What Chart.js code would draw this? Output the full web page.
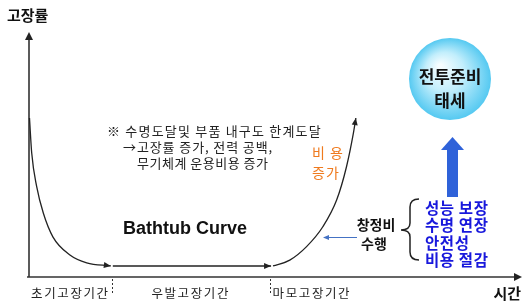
<!DOCTYPE html>
<html>
<head>
<meta charset="utf-8">
<script src="https://cdn.jsdelivr.net/npm/chart.js@4"></script>
<style>
  html, body { margin: 0; padding: 0; background: #fff; }
  #wrap { width: 527px; height: 302px; }
</style>
</head>
<body>
<div id="wrap"><canvas id="chart1" width="527" height="302"></canvas></div>
<script>
// time (0..100) and failure rate (0..100)
var earlyTime = [0.1, 0.55, 1.56, 2.9, 4.87, 8.3, 11.7, 16.6];
var earlyRate = [64.9, 50.6, 36.9, 26.1, 16.3, 9.0, 5.8, 4.5];
var randomTime = [17.0, 49.1];
var randomRate = [4.5, 4.5];
var wearTime = [49.5, 52.9, 56.3, 59.6, 62.4, 64.4, 65.8, 66.3];
var wearRate = [4.5, 6.9, 12.4, 20.5, 31.4, 45.0, 58.7, 64.9];

var periodLabels = ['초기고장기간', '우발고장기간', '마모고장기간'];
var periodBounds = [0, 16.8, 48.8, 66.3];

var noteLines = ['※ 수명도달및 부품 내구도 한계도달', '→고장률 증가, 전력 공백,', '무기체계 운용비용 증가'];
var benefitLines = ['성능 보장', '수명 연장', '안전성', '비용 절감'];

var KR = '"Noto Sans CJK KR", "Noto Sans", sans-serif';

function toPoints(xs, ys) {
    return xs.map(function (x, i) { return { x: x, y: ys[i] }; });
}

function arrowHead(ctx, x1, y1, x2, y2, len, half, color) {
    var a = Math.atan2(y2 - y1, x2 - x1);
    ctx.save();
    ctx.fillStyle = color;
    ctx.beginPath();
    ctx.moveTo(x2, y2);
    ctx.lineTo(x2 - len * Math.cos(a) + half * Math.sin(a), y2 - len * Math.sin(a) - half * Math.cos(a));
    ctx.lineTo(x2 - len * Math.cos(a) - half * Math.sin(a), y2 - len * Math.sin(a) + half * Math.cos(a));
    ctx.closePath();
    ctx.fill();
    ctx.restore();
}

function text(ctx, s, x, y, font, color, align, spacing) {
    ctx.font = font;
    ctx.fillStyle = color;
    ctx.textAlign = align || 'left';
    ctx.textBaseline = 'middle';
    ctx.letterSpacing = spacing || '0px';
    ctx.fillText(s, x, y);
    ctx.letterSpacing = '0px';
}

var decor = {
    id: 'decor',
    beforeDatasetsDraw: function (chart) {
        var ctx = chart.ctx;
        var a = chart.chartArea;
        var xs = chart.scales.x;
        ctx.save();
        // axes
        ctx.strokeStyle = '#333';
        ctx.lineWidth = 1.6;
        ctx.beginPath();
        ctx.moveTo(a.left, a.bottom);
        ctx.lineTo(a.left, a.top + 6);
        ctx.moveTo(a.left - 2, a.bottom);
        ctx.lineTo(a.right - 6, a.bottom);
        ctx.stroke();
        arrowHead(ctx, a.left, a.bottom, a.left, a.top, 8, 4, '#222');
        arrowHead(ctx, a.left, a.bottom, a.right, a.bottom, 8, 4, '#222');

        // period dividers and labels
        ctx.setLineDash([2, 2]);
        ctx.lineWidth = 1;
        ctx.strokeStyle = '#333';
        for (var i = 1; i < periodBounds.length - 1; i++) {
            var px = Math.round(xs.getPixelForValue(periodBounds[i])) + 0.5;
            ctx.beginPath();
            ctx.moveTo(px, a.bottom + 2);
            ctx.lineTo(px, a.bottom + 16);
            ctx.stroke();
        }
        ctx.setLineDash([]);
        var ly = a.bottom + 16;
        var f = '12.5px ' + KR;
        text(ctx, periodLabels[0], (xs.getPixelForValue(periodBounds[0]) + xs.getPixelForValue(periodBounds[1])) / 2, ly, f, '#222', 'center', '1.6px');
        text(ctx, periodLabels[1], (xs.getPixelForValue(periodBounds[1]) + xs.getPixelForValue(periodBounds[2])) / 2, ly, f, '#222', 'center', '1.6px');
        text(ctx, periodLabels[2], xs.getPixelForValue(periodBounds[2]) + 3, ly, f, '#222', 'left', '1.6px');

        text(ctx, '고장률', 7, 15, 'bold 15px ' + KR, '#111');
        text(ctx, '시간', 521, 293, 'bold 15px ' + KR, '#111', 'right');

        // notes
        text(ctx, noteLines[0], 107, 131, '13px ' + KR, '#222', 'left', '1.2px');
        text(ctx, noteLines[1], 123, 147, '13px ' + KR, '#222', 'left', '0.9px');
        text(ctx, noteLines[2], 137, 163, '13px ' + KR, '#222', 'left', '0.5px');
        text(ctx, '비 용', 312, 153, '14px ' + KR, '#ef7a1e', 'left', '1px');
        text(ctx, '증가', 312, 173, '14px ' + KR, '#ef7a1e', 'left', '1px');

        text(ctx, 'Bathtub Curve', 185, 229, 'bold 18px "Liberation Sans", Arial, sans-serif', '#111', 'center');

        text(ctx, '창정비', 376, 225, 'bold 14px ' + KR, '#111', 'center');
        text(ctx, '수행', 374, 244, 'bold 14px ' + KR, '#111', 'center');
        ctx.strokeStyle = '#4472c4';
        ctx.lineWidth = 1;
        ctx.beginPath();
        ctx.moveTo(357, 237.5);
        ctx.lineTo(328, 237.5);
        ctx.stroke();
        arrowHead(ctx, 357, 237.5, 323, 237.5, 6, 2.5, '#4472c4');

        // brace
        ctx.strokeStyle = '#222';
        ctx.lineWidth = 1.5;
        ctx.beginPath();
        ctx.moveTo(419, 199);
        ctx.quadraticCurveTo(410, 199, 410, 207);
        ctx.lineTo(410, 223);
        ctx.quadraticCurveTo(410, 230, 401, 230);
        ctx.quadraticCurveTo(410, 230, 410, 237);
        ctx.lineTo(410, 252);
        ctx.quadraticCurveTo(410, 260, 419, 260);
        ctx.stroke();

        for (var j = 0; j < benefitLines.length; j++) {
            text(ctx, benefitLines[j], 425, 208 + j * 17.5, 'bold 15.5px ' + KR, '#1818dc', 'left', '0.6px');
        }

        // blue up arrow
        ctx.fillStyle = '#2f62d9';
        ctx.fillRect(447, 149, 11, 48);
        ctx.beginPath();
        ctx.moveTo(452.5, 137);
        ctx.lineTo(464, 150);
        ctx.lineTo(441, 150);
        ctx.closePath();
        ctx.fill();

        // readiness circle
        var g = ctx.createRadialGradient(440, 66, 2, 450, 79, 41);
        g.addColorStop(0, '#f6fdff');
        g.addColorStop(0.45, '#c2eefc');
        g.addColorStop(1, '#55c9f1');
        ctx.fillStyle = g;
        ctx.beginPath();
        ctx.arc(450, 79, 41, 0, Math.PI * 2);
        ctx.fill();
        text(ctx, '전투준비', 450, 77, 'bold 17px ' + KR, '#111', 'center');
        text(ctx, '태세', 450, 101, 'bold 17px ' + KR, '#111', 'center');
        ctx.restore();
    },
    afterDatasetsDraw: function (chart) {
        var ctx = chart.ctx;
        chart.data.datasets.forEach(function (ds, i) {
            var pts = chart.getDatasetMeta(i).data;
            var p = pts[pts.length - 1];
            var q = pts[pts.length - 2];
            var fx = p.cp1x !== undefined ? p.cp1x : q.x;
            var fy = p.cp1y !== undefined ? p.cp1y : q.y;
            if (Math.abs(fx - p.x) < 0.5 && Math.abs(fy - p.y) < 0.5) { fx = q.x; fy = q.y; }
            arrowHead(ctx, fx, fy, p.x, p.y, 7, 3, '#222');
        });
    }
};

var lineStyle = {
    borderColor: '#222',
    borderWidth: 1.3,
    pointRadius: 0,
    showLine: true,
    cubicInterpolationMode: 'monotone',
    clip: false
};

var chart1 = new Chart(document.getElementById('chart1'), {
    type: 'scatter',
    data: {
        datasets: [
            Object.assign({ label: '초기', data: toPoints(earlyTime, earlyRate) }, lineStyle),
            Object.assign({ label: '우발', data: toPoints(randomTime, randomRate) }, lineStyle),
            Object.assign({ label: '마모', data: toPoints(wearTime, wearRate) }, lineStyle)
        ]
    },
    options: {
        responsive: false,
        animation: false,
        layout: { padding: { left: 29, right: 5, top: 32, bottom: 25 } },
        plugins: { legend: { display: false }, tooltip: { enabled: false } },
        scales: {
            x: { type: 'linear', min: 0, max: 100, display: false },
            y: { min: 0, max: 100, display: false }
        }
    },
    plugins: [decor]
});
</script>
</body>
</html>
